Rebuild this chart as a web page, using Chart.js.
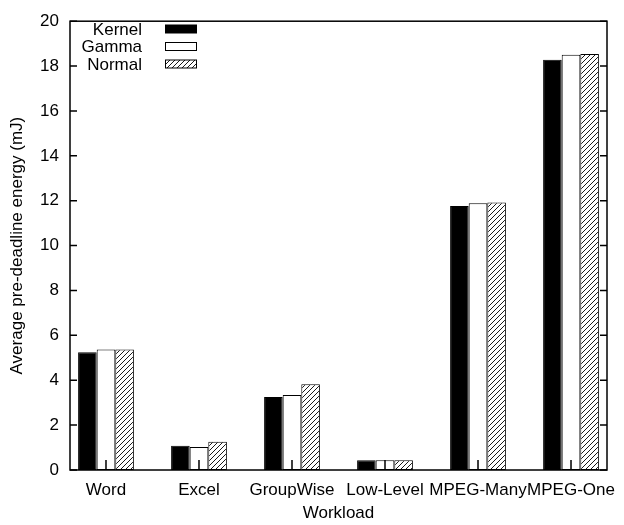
<!DOCTYPE html>
<html>
<head>
<meta charset="utf-8">
<script src="https://cdn.jsdelivr.net/npm/chart.js@4.4.0/dist/chart.umd.min.js"></script>
<style>
html,body{margin:0;padding:0;background:#fff;}
#wrap{width:624px;height:525px;}
</style>
</head>
<body>
<div id="wrap"><canvas id="c" width="624" height="525"></canvas></div>
<script>
const categories = ["Word", "Excel", "GroupWise", "Low-Level", "MPEG-Many", "MPEG-One"];
const kernelValues = [5.25, 1.08, 3.25, 0.43, 11.77, 18.28];
const gammaValues  = [5.37, 1.03, 3.34, 0.43, 11.89, 18.50];
const normalValues = [5.37, 1.26, 3.82, 0.43, 11.92, 18.54];
const seriesNames = ["Kernel", "Gamma", "Normal"];
const yTicks = [0, 2, 4, 6, 8, 10, 12, 14, 16, 18, 20];

const FONT = "'Liberation Sans', Arial, sans-serif";
const FS = 17;

function hatch() {
  const s = 5;
  const c = document.createElement('canvas');
  c.width = s; c.height = s;
  const g = c.getContext('2d');
  g.fillStyle = '#fff';
  g.fillRect(0, 0, s, s);
  g.strokeStyle = '#000';
  g.lineWidth = 0.9;
  g.beginPath();
  g.moveTo(-1, s + 1); g.lineTo(s + 1, -1);
  g.moveTo(-1, 1); g.lineTo(1, -1);
  g.moveTo(s - 1, s + 1); g.lineTo(s + 1, s - 1);
  g.stroke();
  return g.createPattern(c, 'repeat');
}

const toPts = arr => arr.map((v, i) => ({x: i, y: v}));

const frame = {
  id: 'frame',
  afterDatasetsDraw(chart) {
    const ctx = chart.ctx;
    const a = chart.chartArea;
    const xs = chart.scales.x, ys = chart.scales.y;
    ctx.save();
    ctx.strokeStyle = '#000';
    ctx.lineWidth = 1.5;
    ctx.beginPath();
    yTicks.forEach(v => {
      const py = ys.getPixelForValue(v);
      ctx.moveTo(a.left, py); ctx.lineTo(a.left + 7, py);
      ctx.moveTo(a.right, py); ctx.lineTo(a.right - 7, py);
    });
    categories.forEach((c, i) => {
      const px = xs.getPixelForValue(i);
      ctx.moveTo(px, a.bottom); ctx.lineTo(px, a.bottom - 10);
    });
    ctx.stroke();
    ctx.strokeRect(a.left, a.top, a.right - a.left, a.bottom - a.top);
    // legend
    ctx.font = FS + 'px ' + FONT;
    ctx.textAlign = 'right';
    ctx.textBaseline = 'middle';
    ctx.fillStyle = '#000';
    chart.data.datasets.forEach((ds, i) => {
      const y = 29 + i * 17.5;
      ctx.fillText(ds.label, 142, y + 1);
      ctx.fillStyle = ds.backgroundColor;
      ctx.fillRect(165, y - 4, 32, 8);
      ctx.lineWidth = 1;
      ctx.strokeRect(165.5, y - 4, 31, 8);
      ctx.fillStyle = '#000';
    });
    ctx.restore();
  }
};

const pattern = hatch();
new Chart(document.getElementById('c'), {
  type: 'bar',
  data: {
    datasets: [
      {label: seriesNames[0], data: toPts(kernelValues), backgroundColor: '#000', borderColor: '#000', borderWidth: 1, borderSkipped: false},
      {label: seriesNames[1], data: toPts(gammaValues), backgroundColor: '#fff', borderColor: '#000', borderWidth: 1, borderSkipped: false},
      {label: seriesNames[2], data: toPts(normalValues), backgroundColor: pattern, borderColor: '#000', borderWidth: 1, borderSkipped: false}
    ]
  },
  options: {
    responsive: false,
    animation: false,
    devicePixelRatio: 1,
    categoryPercentage: 0.6,
    barPercentage: 1.0,
    layout: {padding: {top: 9, right: 17, left: 0, bottom: 0}},
    plugins: {legend: {display: false}, tooltip: {enabled: false}},
    scales: {
      x: {
        type: 'linear',
        offset: false,
        min: -0.387, max: 5.387,
        grid: {display: false, drawTicks: false, offset: false},
        border: {display: false},
        afterBuildTicks: s => { s.ticks = categories.map((c, i) => ({value: i})); },
        afterFit: s => { s.height = 55; s.paddingLeft = 0; s.paddingRight = 0; },
        ticks: {
          autoSkip: false, maxRotation: 0, minRotation: 0, padding: 10,
          color: '#000', font: {family: FONT, size: FS},
          callback: v => categories[v]
        },
        title: {display: true, text: 'Workload', color: '#000', font: {family: FONT, size: FS}, padding: {top: 0, bottom: 1}}
      },
      y: {
        min: 0, max: 20,
        grid: {display: false, drawTicks: false},
        border: {display: false},
        afterBuildTicks: s => { s.ticks = yTicks.map(v => ({value: v})); },
        afterFit: s => { s.width = 70; },
        ticks: {padding: 11, color: '#000', font: {family: FONT, size: FS}},
        title: {display: true, text: 'Average pre-deadline energy (mJ)', color: '#000', font: {family: FONT, size: FS}, padding: {top: 7, bottom: 0}}
      }
    }
  },
  plugins: [frame]
});
</script>
</body>
</html>
